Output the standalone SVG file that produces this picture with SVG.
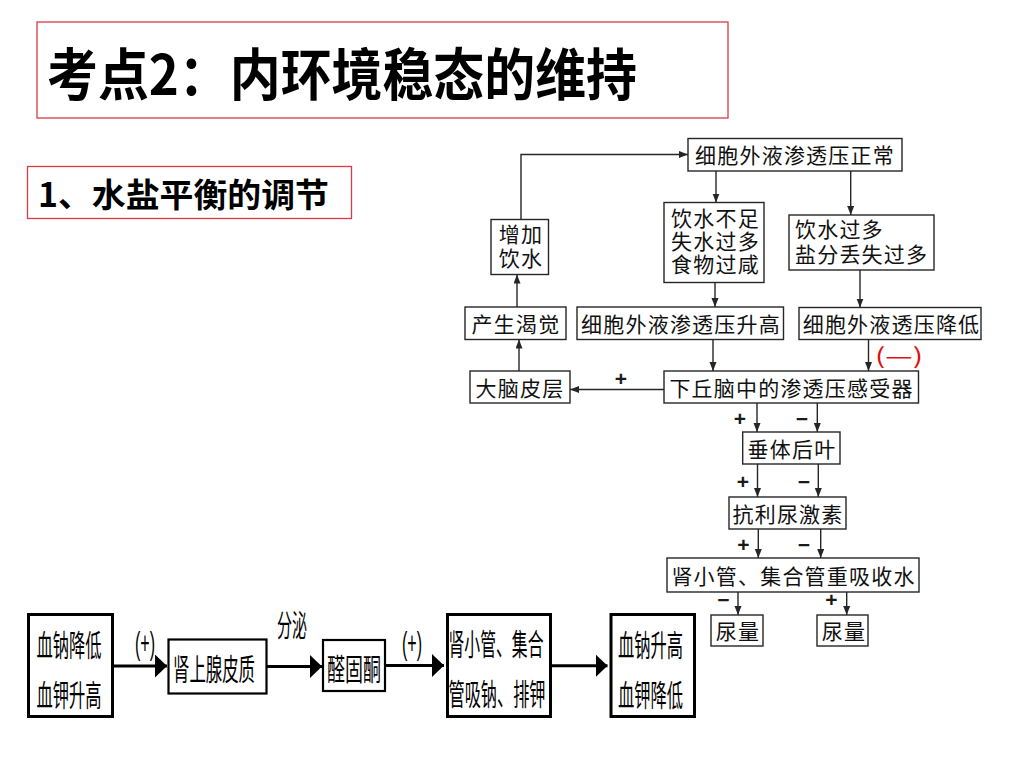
<svg xmlns="http://www.w3.org/2000/svg" width="1024" height="768" viewBox="0 0 1024 768">
<defs>
<style>
.hd{fill:#fff;stroke:#d93a46;stroke-width:1.3}
.bx{fill:#fff;stroke:#262626;stroke-width:1.4}
.bb{fill:#fff;stroke:#000;stroke-width:3}
.bs{fill:#fff;stroke:#000;stroke-width:2.2}
.t{font-family:"Noto Sans CJK SC","Noto Sans",sans-serif;font-size:21px;fill:#111;text-anchor:middle;letter-spacing:1.2px}
.tl{text-anchor:start}
.ttl{font-family:"Noto Sans CJK SC","Noto Sans",sans-serif;font-weight:700;fill:#000}
.bt{font-family:"Noto Sans CJK SC",sans-serif;font-size:30px;fill:#000}
.pp{font-family:"Liberation Sans",sans-serif;font-size:31px;fill:#000}
.sg{font-family:"Liberation Sans",sans-serif;font-size:21px;font-weight:700;fill:#1a1a1a;text-anchor:middle}
.ln{fill:none;stroke:#262626;stroke-width:1.4}
.lk{fill:none;stroke:#000;stroke-width:3}
</style>
<marker id="a" markerUnits="userSpaceOnUse" markerWidth="10" markerHeight="8" refX="9" refY="3.5" orient="auto">
<path d="M0,0 L9,3.5 L0,7 z" fill="#262626"/>
</marker>
<marker id="k" markerUnits="userSpaceOnUse" markerWidth="13" markerHeight="24" refX="12" refY="11.5" orient="auto">
<path d="M0,0 L12,11.5 L0,23 z" fill="#000"/>
</marker>
</defs>
<rect width="1024" height="768" fill="#fff"/>

<g id="title">
<rect class="hd" x="37" y="22" width="691" height="96"/>
<text class="ttl" x="47" y="95" font-size="56" textLength="590" lengthAdjust="spacingAndGlyphs">考点2：内环境稳态的维持</text>
</g>
<g id="subtitle">
<rect class="hd" x="27.5" y="166.5" width="324" height="52"/>
<text class="ttl" x="38" y="207" font-size="33" textLength="291" lengthAdjust="spacingAndGlyphs">1、水盐平衡的调节</text>
</g>

<g id="connectors">
<path class="ln" d="M521,219.5 V154.5 H688" marker-end="url(#a)"/>
<path class="ln" d="M716,171 V202.5" marker-end="url(#a)"/>
<path class="ln" d="M850.7,171 V215" marker-end="url(#a)"/>
<path class="ln" d="M715,282.7 V307" marker-end="url(#a)"/>
<path class="ln" d="M860,270 V307.5" marker-end="url(#a)"/>
<path class="ln" d="M713,339.5 V371" marker-end="url(#a)"/>
<path class="ln" d="M868.5,339.5 V371" marker-end="url(#a)"/>
<path class="ln" d="M517,307 V274.5" marker-end="url(#a)"/>
<path class="ln" d="M519,371 V339.5" marker-end="url(#a)"/>
<path class="ln" d="M664,389.5 H570" marker-end="url(#a)"/>
<path class="ln" d="M757,403 V432" marker-end="url(#a)"/>
<path class="ln" d="M817.3,403 V432" marker-end="url(#a)"/>
<path class="ln" d="M757.5,464 V497" marker-end="url(#a)"/>
<path class="ln" d="M818.3,464 V497" marker-end="url(#a)"/>
<path class="ln" d="M758.3,529 V558" marker-end="url(#a)"/>
<path class="ln" d="M820.7,529 V558" marker-end="url(#a)"/>
<path class="ln" d="M738,592 V615" marker-end="url(#a)"/>
<path class="ln" d="M846.7,592 V615" marker-end="url(#a)"/>
<path class="lk" d="M113,666 H167" marker-end="url(#k)"/>
<path class="lk" d="M267,666.5 H322" marker-end="url(#k)"/>
<path class="lk" d="M385,665.5 H444" marker-end="url(#k)"/>
<path class="lk" d="M551,665.7 H607.5" marker-end="url(#k)"/>
<text class="sg" x="621" y="386">+</text>
<text x="899" y="364" font-family="Noto Sans CJK SC,sans-serif" font-size="22" fill="#e01010" text-anchor="middle" textLength="48" lengthAdjust="spacingAndGlyphs">(—)</text>
<text class="sg" x="740" y="426">+</text>
<text class="sg" x="802" y="426">−</text>
<text class="sg" x="743" y="489">+</text>
<text class="sg" x="804" y="489">−</text>
<text class="sg" x="743.5" y="551.5">+</text>
<text class="sg" x="804" y="551.5">−</text>
<text class="sg" x="723.5" y="607">−</text>
<text class="sg" x="831.5" y="607">+</text>
<text class="pp" x="135" y="654" textLength="20" lengthAdjust="spacingAndGlyphs">(+)</text>
<text class="pp" x="402" y="654" textLength="20" lengthAdjust="spacingAndGlyphs">(+)</text>
<text class="bt" x="277" y="636" textLength="30" lengthAdjust="spacingAndGlyphs">分泌</text>
</g>

<g id="n-normal">
<rect class="bx" x="688" y="138.5" width="214" height="32.5"/>
<text class="t" x="795" y="163">细胞外液渗透压正常</text>
</g>
<g id="n-drink">
<rect class="bx" x="491" y="219.5" width="57.5" height="55"/>
<text class="t" x="521" y="242">增加</text>
<text class="t" x="521" y="266">饮水</text>
</g>
<g id="n-lack">
<rect class="bx" x="664" y="202.5" width="100" height="80"/>
<text class="t" x="715.5" y="226">饮水不足</text>
<text class="t" x="715.5" y="249">失水过多</text>
<text class="t" x="715.5" y="272">食物过咸</text>
</g>
<g id="n-excess">
<rect class="bx" x="789" y="215" width="145" height="55"/>
<text class="t tl" x="795" y="237">饮水过多</text>
<text class="t tl" x="795" y="262">盐分丢失过多</text>
</g>
<g id="n-thirst">
<rect class="bx" x="465" y="307" width="101" height="32.5"/>
<text class="t" x="516" y="331.5">产生渴觉</text>
</g>
<g id="n-high">
<rect class="bx" x="577" y="307" width="206.5" height="32.5"/>
<text class="t" x="681" y="331.5">细胞外液渗透压升高</text>
</g>
<g id="n-low">
<rect class="bx" x="799" y="307.5" width="182" height="32"/>
<text class="t" x="891.5" y="331.5">细胞外液透压降低</text>
</g>
<g id="n-cortex">
<rect class="bx" x="470" y="371" width="100" height="32"/>
<text class="t" x="520" y="395.5">大脑皮层</text>
</g>
<g id="n-hypo">
<rect class="bx" x="664" y="371" width="254.5" height="32"/>
<text class="t" x="791.5" y="395.5">下丘脑中的渗透压感受器</text>
</g>
<g id="n-pit">
<rect class="bx" x="742.7" y="432" width="97.3" height="32"/>
<text class="t" x="792" y="457">垂体后叶</text>
</g>
<g id="n-adh">
<rect class="bx" x="729" y="497" width="117" height="32"/>
<text class="t" x="788" y="521.5">抗利尿激素</text>
</g>
<g id="n-kidney">
<rect class="bx" x="667" y="558" width="252" height="34"/>
<text class="t" x="793.5" y="583.5">肾小管、集合管重吸收水</text>
</g>
<g id="n-urine1">
<rect class="bx" x="711" y="615" width="52" height="31"/>
<text class="t" x="738" y="639">尿量</text>
</g>
<g id="n-urine2">
<rect class="bx" x="817" y="615" width="51" height="31"/>
<text class="t" x="844" y="639">尿量</text>
</g>

<g id="b-start">
<rect class="bb" x="28.5" y="614.5" width="84" height="102"/>
<text class="bt" x="36.5" y="656" textLength="65" lengthAdjust="spacingAndGlyphs">血钠降低</text>
<text class="bt" x="36.5" y="706" textLength="65" lengthAdjust="spacingAndGlyphs">血钾升高</text>
</g>
<g id="b-adrenal">
<rect class="bs" x="168.5" y="639.5" width="98" height="54"/>
<text class="bt" x="173" y="680" font-size="33" textLength="82" lengthAdjust="spacingAndGlyphs">肾上腺皮质</text>
</g>
<g id="b-aldo">
<rect class="bs" x="323" y="640" width="62" height="51"/>
<text class="bt" x="327" y="680" font-size="33" textLength="54" lengthAdjust="spacingAndGlyphs">醛固酮</text>
</g>
<g id="b-tubule">
<rect class="bb" x="447.5" y="614.5" width="103" height="102"/>
<text class="bt" x="448.5" y="655" textLength="95" lengthAdjust="spacingAndGlyphs">肾小管、集合</text>
<text class="bt" x="448.5" y="705" textLength="97" lengthAdjust="spacingAndGlyphs">管吸钠、排钾</text>
</g>
<g id="b-end">
<rect class="bb" x="611" y="614.5" width="83.5" height="102"/>
<text class="bt" x="618" y="656" textLength="65" lengthAdjust="spacingAndGlyphs">血钠升高</text>
<text class="bt" x="618" y="706" textLength="65" lengthAdjust="spacingAndGlyphs">血钾降低</text>
</g>
</svg>
